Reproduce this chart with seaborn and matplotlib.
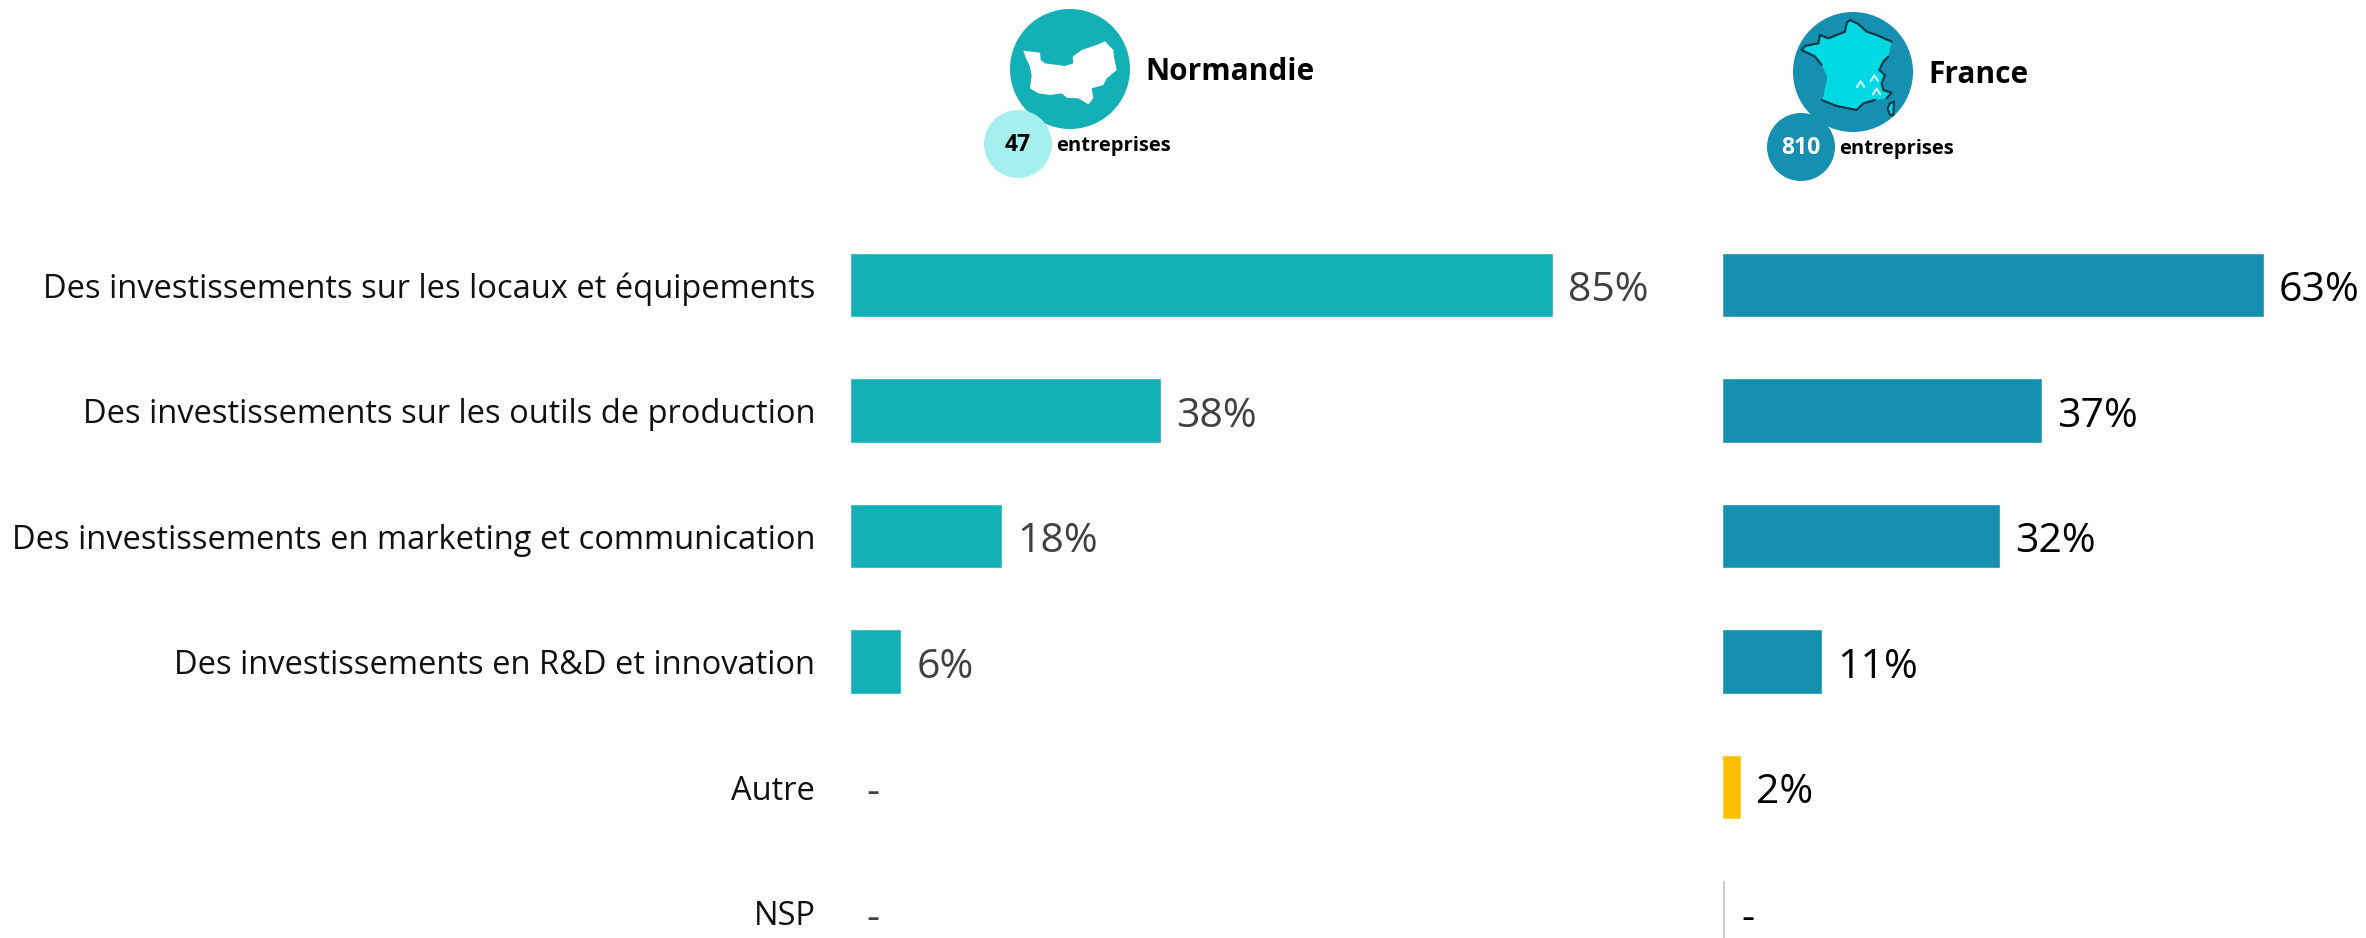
import matplotlib
matplotlib.use('Agg')
import matplotlib.pyplot as plt
import pandas as pd
import seaborn as sns
from matplotlib.patches import Circle, Polygon

categories = ['Des investissements sur les locaux et équipements',
              'Des investissements sur les outils de production',
              'Des investissements en marketing et communication',
              'Des investissements en R&D et innovation',
              'Autre',
              'NSP']
normandie_vals = [85, 37.6, 18.4, 6.2, 0, 0]
france_vals = [63, 37.2, 32.3, 11.6, 2.2, 0.35]
normandie_labels = ['85%', '38%', '18%', '6%', '-', '-']
france_labels = ['63%', '37%', '32%', '11%', '2%', '-']

TEAL = '#14B0B8'
BLUE = '#1590B0'
LIGHT = '#A6EFEF'
normandie_cols = [TEAL] * 6
france_cols = [BLUE, BLUE, BLUE, BLUE, '#FFC000', '#BFBFBF']

W, H = 2366, 938
sns.set_theme(style='white')
plt.rcParams['font.family'] = ['Open Sans', 'DejaVu Sans']

fig = plt.figure(figsize=(W / 100, H / 100), dpi=100, facecolor='white')

# rows sit 125.5 px apart, first one centred at y=285
y_top = -285 / 125.5
y_bot = (H - 285) / 125.5


def draw_panel(left, px_per_pct, width, vals, cols, labels, txt_col, show_names):
    ax = fig.add_axes([left / W, 0, width / W, 1])
    df = pd.DataFrame({'cat': categories, 'val': vals})
    sns.barplot(data=df, x='val', y='cat', hue='cat', palette=cols, legend=False,
                width=0.51, saturation=1, ax=ax)
    ax.set_xlim(0, width / px_per_pct)
    ax.set_ylim(y_bot, y_top)
    for cont, lab in zip(ax.containers, labels):
        pad = 11.8 if lab == '-' else 11
        anns = ax.bar_label(cont, labels=[lab], padding=pad, fontsize=29.5, color=txt_col)
        for a in anns:
            # text sits a bit high otherwise
            a.xyann = (a.xyann[0], -4.3)
    ax.set_xlabel('')
    ax.set_ylabel('')
    ax.xaxis.set_visible(False)
    ax.tick_params(axis='y', length=0, pad=25, labelsize=23.5, labelcolor='#111111')
    if not show_names:
        ax.set_yticklabels([])
    sns.despine(ax=ax, left=True, bottom=True)
    ax.patch.set_alpha(0)
    return ax


ax_n = draw_panel(850, 8.27, 872, normandie_vals, normandie_cols, normandie_labels, '#404040', True)
ax_f = draw_panel(1722, 8.6, W - 1722, france_vals, france_cols, france_labels, '#000000', False)

# header badges, in pixel coordinates
hd = fig.add_axes([0, 0, 1, 1], zorder=-1)
hd.set_xlim(0, W)
hd.set_ylim(H, 0)
hd.axis('off')


def badge(cx, cy, col, cx2, cy2, col2, name, name_x, name_y, count, count_col, ent_x, ent_y):
    hd.add_patch(Circle((cx, cy), 60, color=col, lw=0))
    hd.add_patch(Circle((cx2, cy2), 34, color=col2, lw=0))
    hd.text(name_x, name_y, name, fontsize=21.5, fontweight='bold', color='black', va='center')
    hd.text(cx2, cy2 + 1, count, fontsize=16.5, fontweight='bold', color=count_col,
            va='center', ha='center')
    hd.text(ent_x, ent_y, 'entreprises', fontsize=14.5, fontweight='bold', color='black', va='center')


badge(1070, 69, TEAL, 1018, 144, LIGHT, 'Normandie', 1145, 72, '47', 'black', 1056, 146)
badge(1853, 72, BLUE, 1801, 147, BLUE, 'France', 1928, 75, '810', 'white', 1839, 149)


def crop(pts, ox):
    return [(ox + x / 3, y / 3) for x, y in pts]


norm_shape = [(220, 152), (270, 158), (272, 180), (285, 190), (345, 198), (370, 190), (368, 170),
              (395, 150), (440, 135), (465, 124), (490, 150), (492, 170), (500, 210), (470, 235),
              (460, 255), (425, 265), (430, 295), (415, 313), (385, 295), (350, 293), (335, 280),
              (300, 285), (265, 280), (240, 265), (245, 225), (238, 195), (228, 175)]
hd.add_patch(Polygon(crop(norm_shape, 950), closed=True, color='white', lw=0))

fr_shape = [(330, 60), (355, 72), (380, 95), (410, 105), (455, 125), (445, 170), (430, 185),
            (418, 210), (435, 225), (425, 250), (430, 270), (455, 278), (440, 295), (405, 300),
            (370, 310), (350, 330), (310, 322), (290, 318), (245, 300), (250, 290), (262, 230),
            (245, 195), (225, 170), (185, 150), (195, 138), (235, 130), (240, 105), (265, 115),
            (315, 95), (320, 68)]
corsica = [(450, 310), (462, 305), (460, 345), (450, 345), (443, 325)]
hd.add_patch(Polygon(crop(fr_shape, 1740), closed=True, facecolor='#00D8E4', edgecolor='none'))
hd.add_patch(Polygon(crop(corsica, 1740), closed=True, facecolor='#00D8E4', edgecolor='#0B3A4A', lw=1.5))
# dark coast line: north-east, then south and west, inland stretch left open
for part in (fr_shape[:5], fr_shape[5:13], fr_shape[13:19], fr_shape[21:] + fr_shape[:1]):
    xs, ys = zip(*crop(part, 1740))
    hd.plot(xs, ys, color='#0B3A4A', lw=1.6)
for mx, my in [(362, 252), (403, 234), (410, 274)]:
    xs, ys = zip(*crop([(mx - 11, my + 9), (mx, my - 8), (mx + 11, my + 9)], 1740))
    hd.plot(xs, ys, color='#C9F6F6', lw=1.6)

fig.savefig('out.png', dpi=100)
